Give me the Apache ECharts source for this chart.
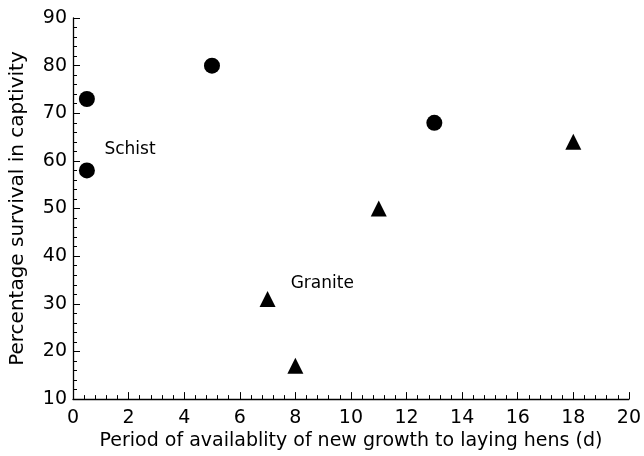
<!DOCTYPE html>
<html>
<head>
<meta charset="utf-8">
<script src="https://cdn.jsdelivr.net/npm/echarts@6/dist/echarts.min.js"></script>
<style>html,body{margin:0;padding:0;background:#fff}#c{width:644px;height:456px}</style>
</head>
<body>
<div id="c"></div>
<script>
const schistX = [0.5, 0.5, 5, 13];
const schistY = [73, 58, 80, 68];
const graniteX = [7, 8, 11, 18];
const graniteY = [31, 17, 50, 64];
const labelNames = ['Schist', 'Granite'];
const labelX = [1.13, 7.83];
const labelY = [62.3, 34.2];

const chart = echarts.init(document.getElementById('c'));
const font = '"DejaVu Sans", sans-serif';
chart.setOption({
  animation: false,
  grid: {left: 70, right: 12, top: 18, bottom: 56},
  xAxis: {
    type: 'value', min: 0, max: 20, interval: 2,
    name: 'Period of availablity of new growth to laying hens (d)',
    nameLocation: 'middle', nameGap: 30,
    nameTextStyle: {fontFamily: font, fontSize: 19, color: '#000'},
    axisLine: {lineStyle: {color: '#000', width: 1.3}},
    axisTick: {inside: true, length: 7, lineStyle: {color: '#000'}},
    minorTick: {show: true, splitNumber: 5, length: 4, lineStyle: {color: '#000'}},
    axisLabel: {fontFamily: font, fontSize: 19, color: '#000', margin: 9},
    splitLine: {show: false}
  },
  yAxis: {
    type: 'value', min: 10, max: 90, interval: 10,
    name: 'Percentage survival in captivity',
    nameLocation: 'middle', nameGap: 45,
    nameTextStyle: {fontFamily: font, fontSize: 20, color: '#000'},
    axisLine: {show: true, lineStyle: {color: '#000', width: 1.3}},
    axisTick: {show: true, inside: true, length: 7, lineStyle: {color: '#000'}},
    minorTick: {show: true, splitNumber: 5, length: 4, lineStyle: {color: '#000'}},
    axisLabel: {fontFamily: font, fontSize: 19, color: '#000', margin: 6},
    splitLine: {show: false}
  },
  series: [
    {
      type: 'scatter', symbol: 'circle', symbolSize: 16,
      itemStyle: {color: '#000', opacity: 1},
      data: schistX.map((x, i) => [x, schistY[i]])
    },
    {
      type: 'scatter', symbol: 'triangle', symbolSize: 16,
      itemStyle: {color: '#000', opacity: 1},
      data: graniteX.map((x, i) => [x, graniteY[i]])
    },
    {
      type: 'scatter', symbolSize: 0, silent: true,
      itemStyle: {color: '#000', opacity: 1},
      label: {show: true, position: 'right', distance: 0, formatter: p => p.data[2],
        fontFamily: font, fontSize: 17, color: '#000', opacity: 1},
      data: labelNames.map((n, i) => [labelX[i], labelY[i], n])
    }
  ]
});
</script>
</body>
</html>
